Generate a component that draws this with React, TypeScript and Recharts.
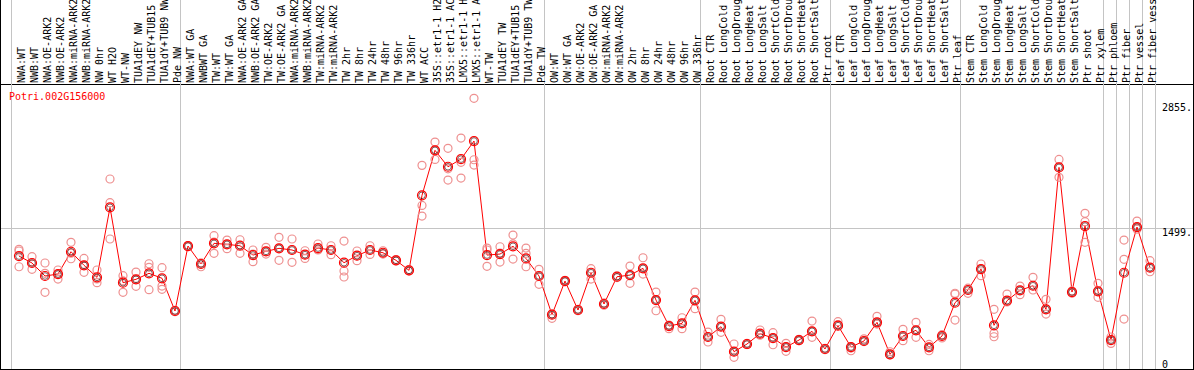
import React from 'react';
import { ComposedChart, Line, Scatter, XAxis, YAxis, ReferenceLine } from 'recharts';

const geneName = 'Potri.002G156000';

const labels = [
  'NWA:WT', 'NWB:WT', 'NWA:OE-ARK2', 'NWB:OE-ARK2', 'NWA:miRNA-ARK2', 'NWB:miRNA-ARK2', 'NW 0hr',
  'WT H2O', 'WT-NW', 'TUA1dEY NW', 'TUA1dEY+TUB15', 'TUA1dY+TUB9 NW', 'Pde NW',
  'NWA:WT GA', 'NWBWT GA', 'TW:WT', 'TW:WT GA', 'NWA:OE-ARK2 GA', 'NWB:OE-ARK2 GA', 'TW:OE-ARK2',
  'TW:OE-ARK2 GA', 'NWA:miRNA-ARK2', 'NWB:miRNA-ARK2', 'TW:miRNA-ARK2', 'TW:miRNA-ARK2',
  'TW 2hr', 'TW 8hr', 'TW 24hr', 'TW 48hr', 'TW 96hr', 'TW 336hr', 'WT ACC',
  '35S::etr1-1 H2O', '35S::etr1-1 ACC', 'LMX5::etr1-1 H2O', 'LMX5::etr1-1 ACC', 'WT-TW',
  'TUA1dEY TW', 'TUA1dEY+TUB15', 'TUA1dY+TUB9 TW', 'Pde TW',
  'OW:WT', 'OW:WT GA', 'OW:OE-ARK2', 'OW:OE-ARK2 GA', 'OW:miRNA-ARK2', 'OW:miRNA-ARK2',
  'OW 2hr', 'OW 8hr', 'OW 24hr', 'OW 48hr', 'OW 96hr', 'OW 336hr',
  'Root CTR', 'Root LongCold', 'Root LongDrought', 'Root LongHeat', 'Root LongSalt',
  'Root ShortCold', 'Root ShortDrought', 'Root ShortHeat', 'Root ShortSalt', 'Ptr root',
  'Leaf CTR', 'Leaf LongCold', 'Leaf LongDrought', 'Leaf LongHeat', 'Leaf LongSalt',
  'Leaf ShortCold', 'Leaf ShortDrought', 'Leaf ShortHeat', 'Leaf ShortSalt', 'Ptr leaf',
  'Stem CTR', 'Stem LongCold', 'Stem LongDrought', 'Stem LongHeat', 'Stem LongSalt',
  'Stem ShortCold', 'Stem ShortDrought', 'Stem ShortHeat', 'Stem ShortSalt', 'Ptr shoot',
  'Ptr xylem', 'Ptr phloem', 'Ptr fiber', 'Ptr vessel', 'Ptr fiber vessel',
];

const means = [
  1198, 1123, 982, 1003, 1245, 1098, 967, 1727, 909, 946, 1011, 957, 602,
  1307, 1112, 1336, 1325, 1310, 1209, 1249, 1282, 1264, 1213, 1285, 1264,
  1126, 1202, 1264, 1234, 1152, 1043, 1857, 2345, 2167, 2250, 2446, 1209,
  1220, 1304, 1173, 982,
  562, 927, 613, 1017, 678, 974, 992, 1065, 721, 439, 468, 718,
  320, 432, 161, 244, 356, 309, 211, 287, 382, 190,
  443, 211, 277, 479, 132, 331, 393, 208, 331, 692,
  830, 1057, 447, 714, 826, 876, 620, 2160, 808, 1524,
  816, 287, 1017, 1513, 1072,
];

const replicates = [
  [1271, 1253, 1082], [1191, 1054, 1123], [1123, 1011, 805], [1047, 949, 1003],
  [1347, 1169, 1230], [1173, 1022, 1098], [1047, 909, 950], [2034, 1777, 1383],
  [985, 805, 930], [1025, 870, 946], [1115, 1076, 833], [1072, 873, 837], [610, 595, 602],
  [1310, 1300, 1307], [1125, 1082, 1112], [1419, 1228, 1350], [1372, 1278, 1325],
  [1375, 1228, 1320], [1264, 1137, 1220], [1293, 1220, 1249], [1401, 1152, 1282],
  [1383, 1130, 1264], [1256, 1173, 1213], [1329, 1264, 1270], [1310, 1213, 1264],
  [1361, 1036, 971], [1253, 1148, 1202], [1310, 1216, 1264], [1256, 1220, 1234],
  [1160, 1145, 1152], [1050, 1035, 1043], [2182, 1748, 1632], [2435, 2247, 2345],
  [2367, 2145, 2023], [2478, 2215, 2044], [2909, 2243, 2185], [1285, 1087, 1264],
  [1299, 1133, 1230], [1426, 1166, 1330], [1285, 1228, 1082], [1054, 892, 982],
  [570, 523, 562], [935, 920, 927], [620, 605, 613], [1061, 949, 1017],
  [690, 665, 678], [985, 965, 974], [1090, 902, 992], [1180, 1003, 1065],
  [808, 605, 721], [450, 410, 439], [529, 410, 468], [808, 627, 718],
  [374, 266, 320], [512, 371, 432], [244, 100, 161], [250, 238, 244], [396, 356, 340],
  [367, 236, 309], [251, 165, 211], [295, 280, 287], [493, 317, 382], [198, 182, 190],
  [486, 443, 455], [211, 171, 200], [277, 300, 270], [544, 479, 460], [132, 160, 125],
  [403, 280, 331], [479, 317, 393], [208, 171, 240], [331, 310, 345], [786, 795, 504],
  [830, 794, 850], [1112, 985, 1057], [620, 360, 323], [786, 714, 700], [873, 779, 826],
  [967, 830, 876], [729, 569, 620], [2247, 2052, 2160], [808, 820, 795], [1662, 1571, 1347],
  [902, 751, 816], [287, 251, 320], [1372, 1163, 515], [1578, 1513, 1490], [1148, 1028, 1072],
];

// index where each group starts (vertical separators)
const groupBreaks = [0, 13, 41, 53, 63, 73, 84, 85, 86, 87, 88];
const yTicks = [0, 1499, 2855];

const W = 1192;
const H = 369;
const STEP = 13;
const FIRST = 18;
const HEADER_VALUE = 3054;
const MONO = '"DejaVu Sans Mono", monospace';

const chartData = means.map((m, i) => ({ idx: i, mean: m }));
const repData = replicates.flatMap((r, i) => r.map((v) => ({ idx: i, v })));

const CategoryLabel = (props: any) => {
  const { viewBox, text } = props;
  if (!viewBox) return null;
  return (
    <text
      transform={`translate(${viewBox.x + 2.5},83) rotate(-90)`}
      fontFamily={MONO}
      fontSize={10}
      fill="#000"
      dominantBaseline="central"
      textAnchor="start"
    >
      {text}
    </text>
  );
};

const ValueLabel = (props: any) => {
  const { viewBox, value } = props;
  if (!viewBox) return null;
  return (
    <text
      x={W - 31}
      y={Math.min(viewBox.y, 360.7)}
      dy={7.5}
      fontFamily={MONO}
      fontSize={10}
      fill="#000"
      textAnchor="start"
    >
      {value === 0 ? '0' : `${value}.`}
    </text>
  );
};

const MeanDot = (props: any) => {
  const { cx, cy, index } = props;
  if (cx == null || cy == null) return null;
  return (
    <g key={`m${index}`}>
      <circle cx={cx} cy={cy} r={4.5} fill="none" stroke="#ff0000" strokeWidth={1.2} />
      <circle cx={cx} cy={cy} r={3.3} fill="none" stroke="#300" strokeWidth={0.6} />
    </g>
  );
};

const RepDot = (props: any) => {
  const { cx, cy } = props;
  return <circle cx={cx} cy={cy} r={4} fill="none" stroke="#ee9090" strokeWidth={1.2} />;
};

export default function App() {
  return (
    <div
      style={{
        position: 'relative',
        width: 1194,
        height: 370,
        boxSizing: 'border-box',
        borderLeft: '1px solid #000',
        borderRight: '1px solid #000',
        borderBottom: '1px solid #000',
        background: '#fff',
      }}
    >
      <style>{'body{margin:0}'}</style>
      <ComposedChart width={W} height={H} data={chartData} margin={{ top: 0, right: 0, bottom: 0, left: 0 }}>
        <XAxis dataKey="idx" type="number" hide domain={[-FIRST / STEP, (W - FIRST) / STEP]} allowDataOverflow />
        <YAxis type="number" hide domain={[-27, 3976]} allowDataOverflow />
        <ReferenceLine y={1499} stroke="#c4c4c4" strokeWidth={1} shapeRendering="crispEdges" />
        <ReferenceLine y={HEADER_VALUE} stroke="#000" strokeWidth={1} shapeRendering="crispEdges" />
        {groupBreaks.map((b) => (
          <ReferenceLine key={`g${b}`} x={b - 0.6} stroke="#c4c4c4" strokeWidth={1} shapeRendering="crispEdges" />
        ))}
        {labels.map((l, i) => (
          <ReferenceLine key={`l${i}`} x={i} stroke="none" label={<CategoryLabel text={l} />} />
        ))}
        {yTicks.map((t) => (
          <ReferenceLine key={`t${t}`} y={t} stroke="none" label={<ValueLabel value={t} />} />
        ))}
        <Scatter data={repData} dataKey="v" shape={RepDot} isAnimationActive={false} />
        <Line
          dataKey="mean"
          stroke="#ff0000"
          strokeWidth={1}
          dot={<MeanDot />}
          activeDot={false}
          isAnimationActive={false}
        />
      </ComposedChart>
      <div
        style={{
          position: 'absolute',
          left: 8,
          top: 91,
          fontFamily: MONO,
          fontSize: 10,
          color: '#ff0000',
          lineHeight: '12px',
        }}
      >
        {geneName}
      </div>
    </div>
  );
}
